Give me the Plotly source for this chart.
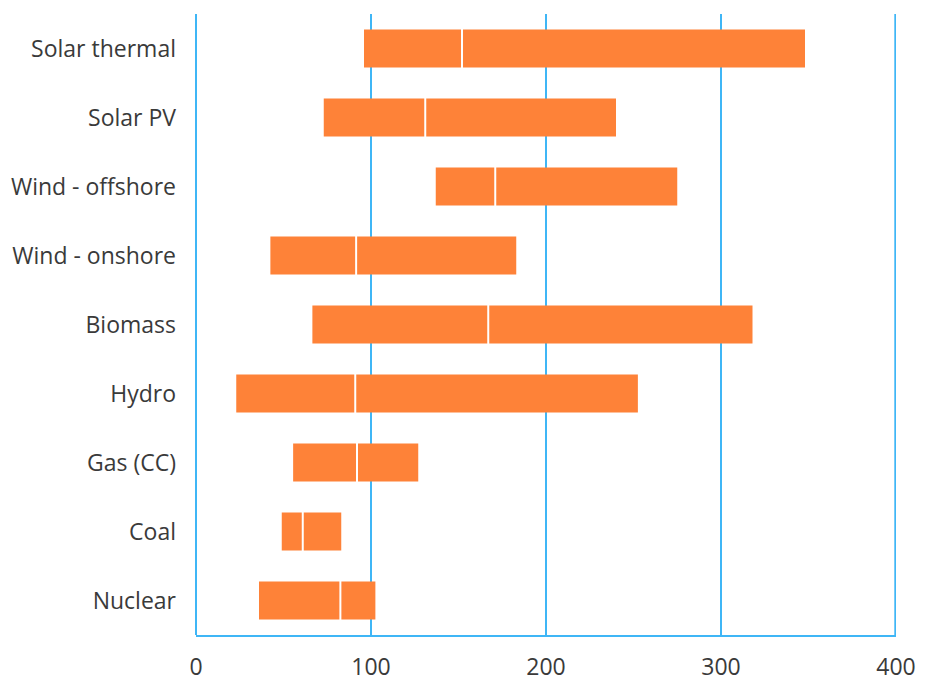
import plotly.graph_objects as go

categories = ["Solar thermal", "Solar PV", "Wind - offshore", "Wind - onshore",
              "Biomass", "Hydro", "Gas (CC)", "Coal", "Nuclear"]
low = [96, 73, 137, 42.5, 66.5, 23, 55.5, 49, 36]
median = [152, 131, 171, 91.5, 167, 91, 92, 61, 82.5]
high = [348, 240, 275, 183, 318, 252.5, 127, 83, 102.5]
x_ticks = [0, 100, 200, 300, 400]

BLUE = "#3fb6f6"
ORANGE = "#fe8238"
FONT = "Open Sans"
TXT = "#3a3a3a"

fig = go.Figure()
fig.add_trace(go.Bar(
    y=categories,
    x=[h - l for h, l in zip(high, low)],
    base=low,
    orientation="h",
    marker=dict(color=ORANGE, line=dict(width=0)),
    hoverinfo="skip",
))
fig.add_trace(go.Scatter(
    y=categories,
    x=median,
    mode="markers",
    marker=dict(symbol="line-ns", size=38, color="white",
                line=dict(color="white", width=2)),
    hoverinfo="skip",
))

fig.add_shape(type="line", xref="x", yref="paper", x0=399.6, x1=399.6, y0=0, y1=1,
              line=dict(color=BLUE, width=2), layer="below")

fig.update_layout(
    width=934, height=683,
    margin=dict(l=196, r=38, t=14, b=48),
    paper_bgcolor="white", plot_bgcolor="white",
    showlegend=False,
    bargap=0.45,
    font=dict(family=FONT, size=23, color=TXT),
)
fig.update_xaxes(
    range=[0, 400], tickvals=x_ticks, ticktext=[str(v) for v in x_ticks],
    showgrid=True, gridcolor=BLUE, gridwidth=2,
    zeroline=True, zerolinecolor=BLUE, zerolinewidth=2,
    showline=True, linecolor=BLUE, linewidth=2,
    ticks="", ticklabelstandoff=10, automargin=False,
    tickfont=dict(family=FONT, size=23, color=TXT),
)
fig.update_yaxes(
    range=[8.5, -0.5], type="category",
    showgrid=False, zeroline=False, showline=False,
    ticks="", ticklabelstandoff=19, automargin=False,
    tickfont=dict(family=FONT, size=23, color=TXT),
)

fig.write_html("out.html")
